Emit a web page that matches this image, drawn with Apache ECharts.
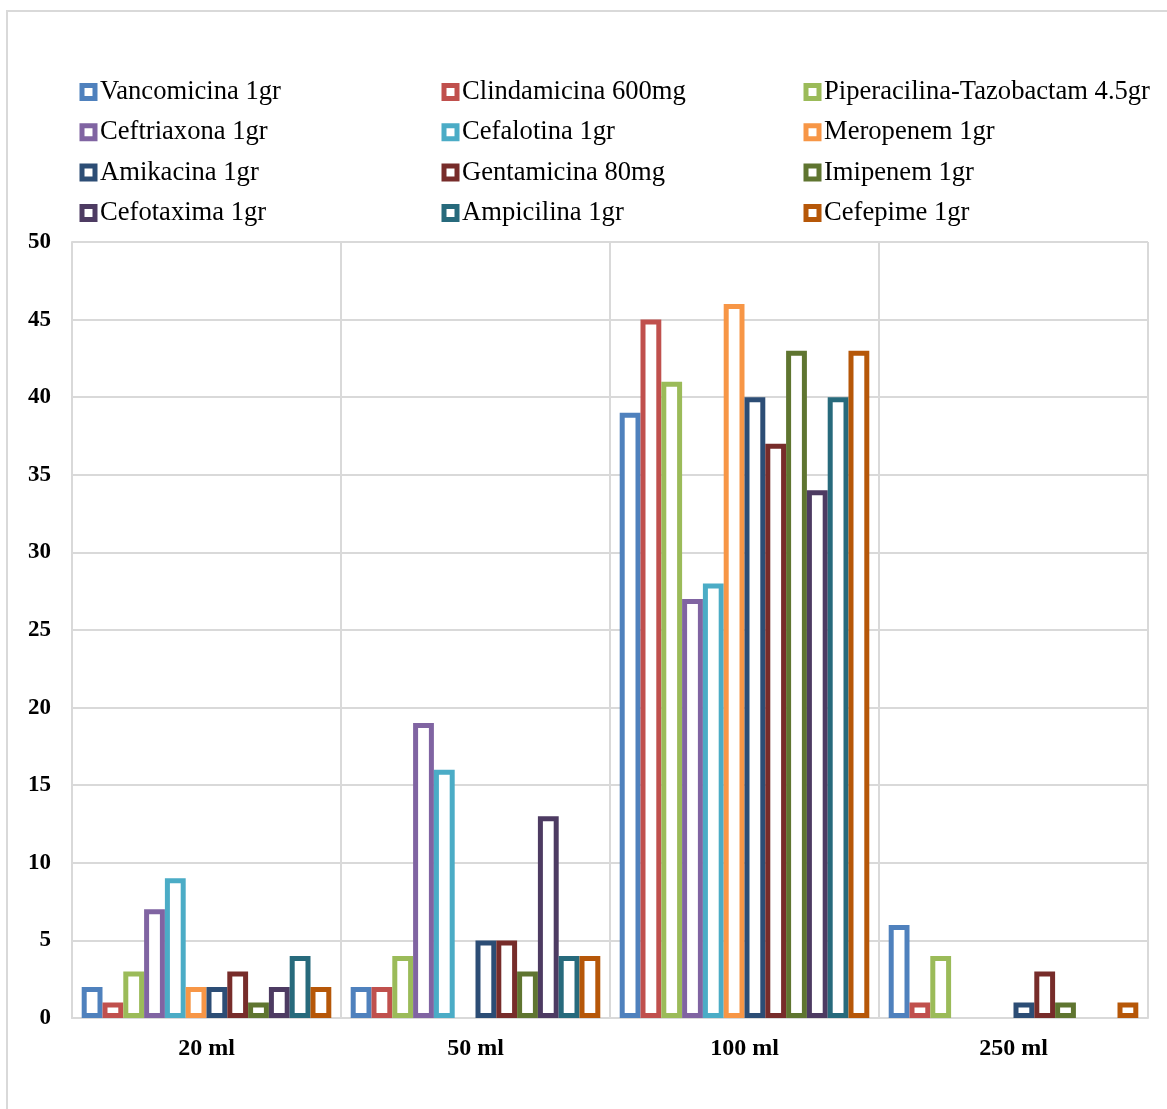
<!DOCTYPE html>
<html>
<head>
<meta charset="utf-8">
<script src="https://cdn.jsdelivr.net/npm/echarts@6/dist/echarts.min.js"></script>
<style>
  html, body { margin: 0; padding: 0; background: #fff; }
  #chart { width: 1167px; height: 1109px; }
</style>
</head>
<body>
<div id="chart"></div>
<script>
// Bottle volumes on the x axis
const categories = ['20 ml', '50 ml', '100 ml', '250 ml'];

// Antibiotics (series), in drawing order
const drugNames = [
  'Vancomicina 1gr', 'Clindamicina 600mg', 'Piperacilina-Tazobactam 4.5gr',
  'Ceftriaxona 1gr', 'Cefalotina 1gr', 'Meropenem 1gr',
  'Amikacina 1gr', 'Gentamicina 80mg', 'Imipenem 1gr',
  'Cefotaxima 1gr', 'Ampicilina 1gr', 'Cefepime 1gr'
];

// Counts per volume: [20 ml, 50 ml, 100 ml, 250 ml]
const vancomicina   = [2, 2, 39, 6];
const clindamicina  = [1, 2, 45, 1];
const piperacilina  = [3, 4, 41, 4];
const ceftriaxona   = [7, 19, 27, 0];
const cefalotina    = [9, 16, 28, 0];
const meropenem     = [2, 0, 46, 0];
const amikacina     = [2, 5, 40, 1];
const gentamicina   = [3, 5, 37, 3];
const imipenem      = [1, 3, 43, 1];
const cefotaxima    = [2, 13, 34, 0];
const ampicilina    = [4, 4, 40, 0];
const cefepime      = [2, 4, 43, 1];

const yTicks = [0, 5, 10, 15, 20, 25, 30, 35, 40, 45, 50];

const seriesValues = [
  vancomicina, clindamicina, piperacilina, ceftriaxona, cefalotina, meropenem,
  amikacina, gentamicina, imipenem, cefotaxima, ampicilina, cefepime
];

const colors = [
  '#4F81BD', '#C0504D', '#9BBB59', '#8064A2', '#4BACC6', '#F79646',
  '#2C4D75', '#772C2A', '#5F7530', '#4D3B62', '#276A7C', '#B65708'
];

const serif = '"Liberation Serif", "Times New Roman", serif';
const grid = '#d9d9d9';

const series = drugNames.map((name, i) => ({
  name: name,
  type: 'bar',
  barWidth: 20.8,
  barGap: 0,
  // empty counts are left out so no outline is drawn on the baseline
  data: seriesValues[i].map(v => (v === 0 ? null : v)),
  itemStyle: { color: '#ffffff', borderColor: colors[i], borderWidth: 5 }
}));

// Legend laid out as three columns of four entries
function legendColumn(left, names) {
  return {
    orient: 'vertical',
    left: left,
    top: 78.5,
    padding: 0,
    itemGap: 13.3,
    itemWidth: 13,
    itemHeight: 13,
    icon: 'rect',
    itemStyle: { borderWidth: 5 },
    data: names,
    textStyle: { fontFamily: serif, fontSize: 26.6, lineHeight: 27, color: '#000' }
  };
}

const option = {
  backgroundColor: '#ffffff',
  animation: false,
  color: colors,
  graphic: [{
    type: 'rect',
    shape: { x: 7, y: 11, width: 1175, height: 1115 },
    style: { fill: 'none', stroke: grid, lineWidth: 2 },
    silent: true
  }],
  legend: [
    legendColumn(79.5, [drugNames[0], drugNames[3], drugNames[6], drugNames[9]]),
    legendColumn(441.5, [drugNames[1], drugNames[4], drugNames[7], drugNames[10]]),
    legendColumn(803.5, [drugNames[2], drugNames[5], drugNames[8], drugNames[11]])
  ],
  grid: { left: 72, right: 19, top: 242, bottom: 91, containLabel: false },
  xAxis: {
    type: 'category',
    data: categories,
    axisLine: { show: true, lineStyle: { color: grid, width: 2 } },
    axisTick: { show: false },
    splitLine: { show: true, interval: 0, lineStyle: { color: grid, width: 2 } },
    axisLabel: {
      margin: 19,
      color: '#000',
      fontFamily: serif,
      fontWeight: 'bold',
      fontSize: 24
    }
  },
  yAxis: {
    type: 'value',
    min: yTicks[0],
    max: yTicks[yTicks.length - 1],
    interval: yTicks[1] - yTicks[0],
    axisLine: { show: true, lineStyle: { color: grid, width: 2 } },
    axisTick: { show: false },
    splitLine: { show: true, lineStyle: { color: grid, width: 2 } },
    axisLabel: {
      margin: 21,
      color: '#000',
      fontFamily: serif,
      fontWeight: 'bold',
      fontSize: 23
    }
  },
  series: series
};

const chart = echarts.init(document.getElementById('chart'), null, { renderer: 'canvas' });
chart.setOption(option);
</script>
</body>
</html>
